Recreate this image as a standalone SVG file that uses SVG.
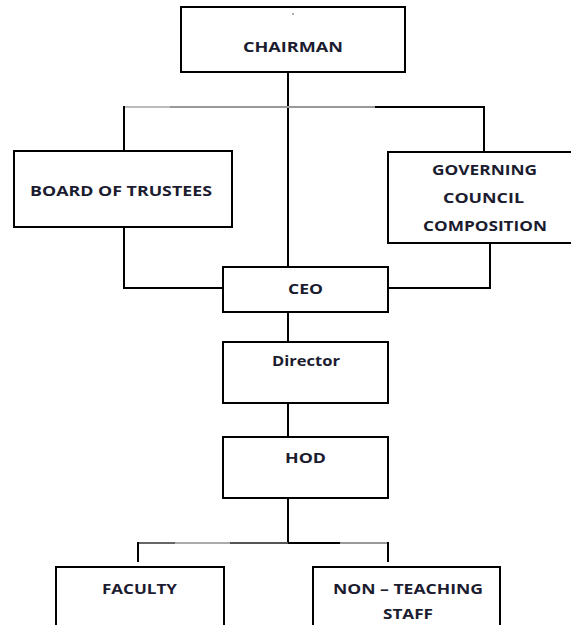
<svg xmlns="http://www.w3.org/2000/svg" width="571" height="625" viewBox="0 0 571 625">
<style>
.box{fill:#fff;stroke:#000;stroke-width:2}
.ln{fill:none;stroke:#000;stroke-width:2}
.t{font-family:"Open Sans","Liberation Sans",sans-serif;font-weight:bold;font-size:14px;fill:#1c1c30;text-anchor:middle}
</style>
<rect width="571" height="625" fill="#fff"/>
<g id="connectors">
<line class="ln" x1="288" y1="72" x2="288" y2="267"/>
<line class="ln" x1="123" y1="107" x2="170" y2="107" style="stroke:#bbb"/>
<line class="ln" x1="170" y1="107" x2="375" y2="107" style="stroke:#999"/>
<line class="ln" x1="375" y1="107" x2="485" y2="107"/>
<polyline class="ln" points="124,106 124,151"/>
<polyline class="ln" points="484,106 484,151"/>
<polyline class="ln" points="124,227 124,288 223,288"/>
<polyline class="ln" points="490,243 490,288 388,288"/>
<line class="ln" x1="288" y1="312" x2="288" y2="342"/>
<line class="ln" x1="288" y1="403" x2="288" y2="437"/>
<line class="ln" x1="288" y1="498" x2="288" y2="544"/>
<line class="ln" x1="137" y1="543" x2="175" y2="543" style="stroke:#666"/>
<line class="ln" x1="175" y1="543" x2="230" y2="543" style="stroke:#aaa"/>
<line class="ln" x1="230" y1="543" x2="288" y2="543" style="stroke:#555"/>
<line class="ln" x1="288" y1="543" x2="340" y2="543"/>
<line class="ln" x1="340" y1="543" x2="389" y2="543" style="stroke:#999"/>
<polyline class="ln" points="138,542 138,562"/>
<polyline class="ln" points="388,542 388,562"/>
</g>
<g id="chairman">
<rect class="box" x="181" y="7" width="224" height="65"/>
<circle cx="293" cy="14" r="0.8" fill="#446"/>
<text class="t" x="293" y="52" textLength="100" lengthAdjust="spacingAndGlyphs">CHAIRMAN</text>
</g>
<g id="board">
<rect class="box" x="14" y="151" width="218" height="76"/>
<text class="t" x="121" y="196" textLength="182" lengthAdjust="spacingAndGlyphs">BOARD OF TRUSTEES</text>
</g>
<g id="governing">
<rect class="box" x="388" y="152" width="194" height="91"/>
<text class="t" x="484.5" y="175" textLength="105" lengthAdjust="spacingAndGlyphs">GOVERNING</text>
<text class="t" x="483.5" y="203" textLength="81" lengthAdjust="spacingAndGlyphs">COUNCIL</text>
<text class="t" x="485" y="231" textLength="124" lengthAdjust="spacingAndGlyphs">COMPOSITION</text>
</g>
<g id="ceo">
<rect class="box" x="223" y="267" width="165" height="45"/>
<text class="t" x="305.5" y="294" textLength="35" lengthAdjust="spacingAndGlyphs">CEO</text>
</g>
<g id="director">
<rect class="box" x="223" y="342" width="165" height="61"/>
<text class="t" x="306" y="366" textLength="68" lengthAdjust="spacingAndGlyphs">Director</text>
</g>
<g id="hod">
<rect class="box" x="223" y="437" width="165" height="61"/>
<text class="t" x="305.5" y="463" textLength="41" lengthAdjust="spacingAndGlyphs">HOD</text>
</g>
<g id="faculty">
<rect class="box" x="56" y="567" width="168" height="70"/>
<text class="t" x="139.5" y="594" textLength="75" lengthAdjust="spacingAndGlyphs">FACULTY</text>
</g>
<g id="nonteaching">
<rect class="box" x="313" y="567" width="187" height="70"/>
<text class="t" x="408" y="594" textLength="150" lengthAdjust="spacingAndGlyphs">NON – TEACHING</text>
<text class="t" x="408" y="619" textLength="50" lengthAdjust="spacingAndGlyphs">STAFF</text>
</g>
</svg>
